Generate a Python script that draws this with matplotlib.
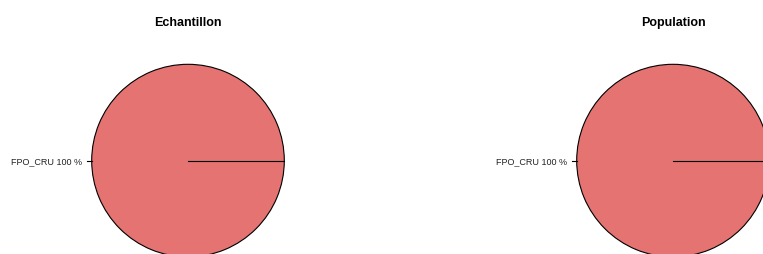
import matplotlib
matplotlib.use("Agg")
import matplotlib.pyplot as plt

# data
titles = ["Echantillon", "Population"]
labels = ["FPO_CRU"]
sample_values = [100]
population_values = [100]
colors = ["#E47371"]

plt.rcParams["font.family"] = ["Liberation Sans", "DejaVu Sans"]

W, H = 763, 255
fig = plt.figure(figsize=(W / 100, H / 100), dpi=100)

# pie centres / radius in pixels (measured from top-left)
R = 96.3
centres = [(188, 161.6), (673, 161.6)]
halves = [(0, W / 2), (W / 2, W)]

for title, values, (cx, cy), (x0, x1) in zip(titles, [sample_values, population_values], centres, halves):
    ax = fig.add_axes([x0 / W, 0, (x1 - x0) / W, 1])
    ax.pie(values, colors=colors, startangle=0, counterclock=True,
           wedgeprops=dict(edgecolor="black", linewidth=0.8))
    ax.set_aspect("auto")
    ax.set_xlim(-(cx - x0) / R, (x1 - cx) / R)
    ax.set_ylim(-(H - cy) / R, cy / R)
    ax.axis("off")

    # radial border line of the slice
    ax.plot([0, 1], [0, 0], color="black", lw=0.8)

    # label with tick, R style
    total = sum(values)
    for lab, v in zip(labels, values):
        pct = round(100 * v / total)
        ax.plot([-1, -1.05], [0, 0], color="black", lw=0.8)
        ax.text(-1.1, -2.8 / R, f"{lab} {pct} %", ha="right", va="baseline",
                fontsize=6.5, color="#222222")

    ax.text(0, (cy - 26) / R, title, ha="center", va="baseline",
            fontsize=9, fontweight="bold")

fig.savefig("out.png", dpi=100)
